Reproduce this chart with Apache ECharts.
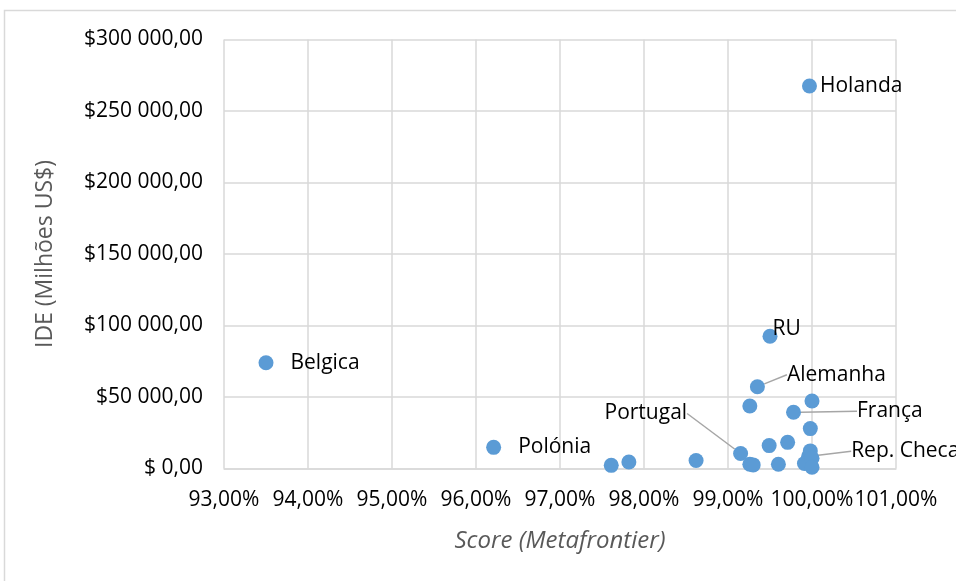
<!DOCTYPE html>
<html>
<head>
<meta charset="utf-8">
<script src="https://cdn.jsdelivr.net/npm/echarts@6/dist/echarts.min.js"></script>
<style>html,body{margin:0;padding:0;background:#fff}#c{width:956px;height:581px}</style>
</head>
<body>
<div id="c"></div>
<script>
// Country labels ('' = unlabeled point)
const names  = ['Holanda','Belgica','Polónia','RU','Alemanha','França','Portugal','Rep. Checa',
                '','','','','','','','','','','','','','',''];
// Score (Metafrontier), %
const scores = [99.97, 93.50, 96.21, 99.50, 99.35, 99.78, 99.15, 99.96,
                99.26, 100.00, 99.98, 99.71, 99.49, 99.98, 99.26, 99.30, 99.60, 99.91, 100.00, 100.00, 98.62, 97.82, 97.61];
// IDE (Milhões US$)
const ide    = [267500, 74000, 14800, 92500, 57200, 39300, 10500, 8500,
                43700, 47200, 27900, 18300, 16000, 12300, 3000, 2500, 3000, 3500, 7200, 900, 5600, 4500, 2200];
const xTicks = {min: 93, max: 101, interval: 1};
const yTicks = {min: 0, max: 300000, interval: 50000};

// label placement (style only)
const labelStyle = {
  'Holanda':   {position:'right', distance:3, dx:0, dy:0, line:false},
  'Belgica':   {position:'right', distance:17, dx:0, dy:0, line:false},
  'Polónia':   {position:'right', distance:17, dx:0, dy:0, line:false},
  'RU':        {position:'right', distance:5, dx:-10, dy:-7, line:false},
  'Alemanha':  {position:'right', distance:5, dx:17, dy:-12, line:true},
  'França':    {position:'right', distance:5, dx:51, dy:-1, line:true},
  'Portugal':  {position:'left',  distance:5, dx:-41, dy:-40, line:true},
  'Rep. Checa':{position:'right', distance:5, dx:30, dy:-5, line:true}
};

const data = scores.map((s,i)=>{
  const n = names[i];
  const item = {name:n, value:[s, ide[i]]};
  if (n) {
    const st = labelStyle[n];
    item.label = {show:true, position:st.position, distance:st.distance};
    item.labelLine = {show:st.line};
  }
  return item;
});

function fmtY(v){
  if (v === 0) return '$ 0,00';
  const s = String(Math.round(v)).replace(/\B(?=(\d{3})+(?!\d))/g,' ');
  return '$' + s + ',00';
}
function fmtX(v){ return v.toFixed(2).replace('.',',') + '%'; }

const FONT = 'Open Sans';
const chart = echarts.init(document.getElementById('c'), null, {renderer:'canvas'});
chart.setOption({
  animation:false,
  backgroundColor:'#fff',
  graphic:[{type:'rect', shape:{x:4.5,y:10.5,width:1200,height:1000}, style:{fill:'none', stroke:'#d9d9d9', lineWidth:1.5}, silent:true}],
  grid:{left:224, top:39.5, width:672, height:429, containLabel:false},
  xAxis:{
    type:'value', min:xTicks.min, max:xTicks.max, interval:xTicks.interval,
    name:'Score (Metafrontier)', nameLocation:'middle', nameGap:61,
    nameTextStyle:{fontFamily:FONT, fontSize:24, fontStyle:'italic', color:'#595959'},
    axisLine:{show:true, lineStyle:{color:'#d9d9d9', width:1.5}},
    axisTick:{show:false},
    axisLabel:{formatter:fmtX, fontFamily:FONT, fontSize:21, color:'#000', margin:21},
    splitLine:{show:true, lineStyle:{color:'#d9d9d9', width:1.5}}
  },
  yAxis:{
    type:'value', min:yTicks.min, max:yTicks.max, interval:yTicks.interval,
    name:'IDE (Milhões US$)', nameLocation:'middle', nameGap:167, nameRotate:90,
    nameTextStyle:{fontFamily:FONT, fontSize:23, color:'#595959'},
    axisLine:{show:false},
    axisTick:{show:false},
    axisLabel:{formatter:fmtY, fontFamily:FONT, fontSize:21, color:'#000', margin:21},
    splitLine:{show:true, lineStyle:{color:'#d9d9d9', width:1.5}}
  },
  series:[{
    type:'scatter',
    symbol:'circle',
    symbolSize:15,
    itemStyle:{color:'#5b9bd5', opacity:1},
    label:{show:false, formatter:'{b}', fontFamily:FONT, fontSize:21, color:'#000'},
    labelLine:{show:false, lineStyle:{color:'#a6a6a6', width:1.5}},
    labelLayout:function(p){
      const n = names[p.dataIndex];
      if (!n) return {};
      const st = labelStyle[n];
      return {dx:st.dx, dy:st.dy, hideOverlap:false};
    },
    data:data
  }]
});
</script>
</body>
</html>
